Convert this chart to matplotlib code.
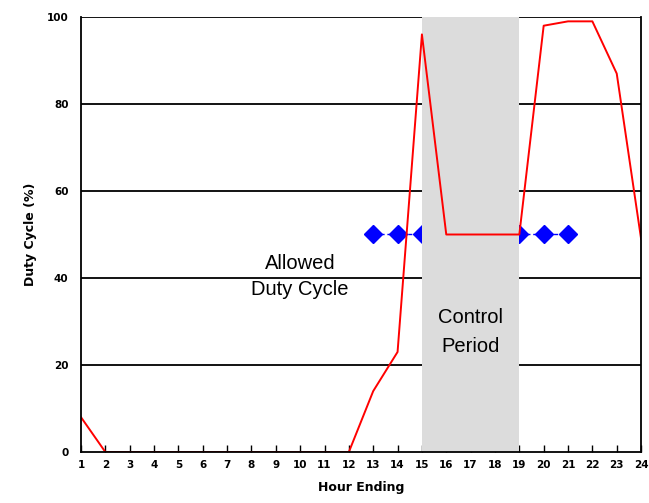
import matplotlib
matplotlib.use("Agg")
import matplotlib.pyplot as plt

hours = list(range(1, 25))
duty = [8, 0, 0, 0, 0, 0, 0, 0, 0, 0, 0, 0, 14, 23, 96, 50, 50, 50, 50, 98, 99, 99, 87, 49]

allowed_hours = [13, 14, 15, 16, 17, 18, 19, 20, 21]
allowed = [50] * len(allowed_hours)

control_start, control_end = 15, 19

fig = plt.figure(figsize=(6.49, 5.03), dpi=100)
ax = fig.add_axes([0.1248, 0.1014, 0.863, 0.8648])

ax.set_xlim(1, 24)
ax.set_ylim(0, 100)

for y in [20, 40, 60, 80, 100]:
    ax.axhline(y, color="black", lw=1.3, zorder=1)

ax.plot(allowed_hours, allowed, color="#0000ff", lw=1, ls=(0, (3, 2)),
        marker="D", ms=9, markeredgecolor="#0000ff", zorder=2)

ax.axvspan(control_start, control_end, color="#dcdcdc", zorder=3, lw=0)

ax.plot(hours, duty, color="#ff0000", lw=1.4, zorder=4)

ax.text(10, 40.3, "Allowed\nDuty Cycle", ha="center", va="center",
        fontsize=14.5, family="Liberation Sans", linespacing=1.5, zorder=5)
ax.text(17, 27.6, "Control\nPeriod", ha="center", va="center",
        fontsize=14.5, family="Liberation Sans", linespacing=1.72, zorder=5)

ax.spines["top"].set_visible(False)
for s in ["left", "right", "bottom"]:
    ax.spines[s].set_linewidth(1.3)
    ax.spines[s].set_zorder(6)

ax.set_xticks(hours)
ax.set_yticks([0, 20, 40, 60, 80, 100])
ax.tick_params(axis="x", direction="in", length=5, width=1, pad=6, labelsize=7.5)
ax.tick_params(axis="y", length=0, pad=9, labelsize=7.5)
for lab in ax.get_xticklabels() + ax.get_yticklabels():
    lab.set_fontweight("bold")

ax.set_xlabel("Hour Ending", fontsize=9, fontweight="bold", labelpad=8)
ax.set_ylabel("Duty Cycle (%)", fontsize=9, fontweight="bold", labelpad=7)

fig.savefig("out.png", dpi=100)
